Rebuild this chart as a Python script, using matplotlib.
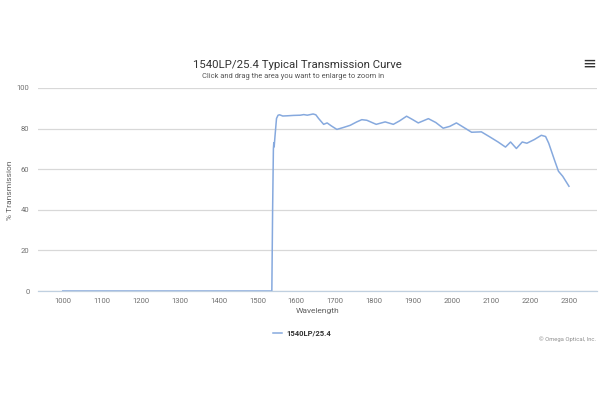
import matplotlib
matplotlib.use("Agg")
import matplotlib.pyplot as plt

plt.rcParams["font.family"] = ["Roboto", "DejaVu Sans"]

# values
wavelength = [1000, 1537, 1539, 1541, 1542, 1543, 1545, 1549, 1553, 1557, 1565,
              1576, 1593, 1610, 1619, 1628, 1643, 1650, 1657, 1670, 1679, 1690,
              1704, 1720, 1738, 1755, 1768, 1781, 1805, 1828, 1849, 1865, 1883,
              1898, 1913, 1939, 1958, 1977, 1994, 2011, 2028, 2050, 2075, 2096,
              2118, 2137, 2150, 2165, 2180, 2192, 2211, 2229, 2240, 2248, 2263,
              2273, 2284, 2300]
transmission = [0, 0, 40, 70, 73, 71, 76, 85, 86.6, 86.8, 86.2,
                86.3, 86.5, 86.6, 86.9, 86.6, 87.2, 86.8, 85.0, 82.1, 82.8, 81.3,
                79.6, 80.5, 81.6, 83.3, 84.4, 84.1, 82.1, 83.3, 82.1, 83.8, 86.1,
                84.5, 82.8, 84.9, 83.0, 80.2, 81.1, 82.8, 80.8, 78.2, 78.4, 76.0,
                73.4, 70.9, 73.4, 70.2, 73.4, 72.8, 74.6, 76.7, 76.1, 72.8, 64.4,
                59.0, 56.5, 51.6]
series_name = "1540LP/25.4"
x_ticks = list(range(1000, 2301, 100))
y_ticks = [0, 20, 40, 60, 80, 100]

fig = plt.figure(figsize=(6, 4), dpi=100)
ax = fig.add_axes([0.063, 0.2725, 0.932, 0.5075])

line, = ax.plot(wavelength, transmission, color="#86a9de", lw=1.1, label=series_name)

ax.set_xlim(936, 2372)
ax.set_ylim(0, 100)
ax.set_xticks(x_ticks)
ax.set_yticks(y_ticks)
ax.tick_params(axis="both", length=0, labelsize=5.5, colors="#707070", pad=6)
ax.tick_params(axis="x", pad=5)
ax.grid(axis="y", color="#d8d8d8", lw=0.9)
ax.set_axisbelow(True)
for s in ("top", "right", "left"):
    ax.spines[s].set_visible(False)
ax.spines["bottom"].set_color("#c0d0e0")
ax.spines["bottom"].set_linewidth(0.9)

ax.set_xlabel("Wavelength", fontsize=6, color="#606060", labelpad=3)
fig.text(0.016, 0.525, "% Transmission", rotation=90, ha="center", va="center",
         fontsize=6, color="#606060")

fig.text(0.496, 0.838, "1540LP/25.4 Typical Transmission Curve", ha="center", va="center",
         fontsize=8.2, color="#333333")
fig.text(0.489, 0.8075, "Click and drag the area you want to enlarge to zoom in", ha="center",
         va="center", fontsize=5.4, color="#555555")
fig.text(0.982, 0.84, "\u2261", ha="center", va="center", fontsize=12, color="#333333",
         family="DejaVu Sans")

leg = fig.legend(handles=[line], loc="center", bbox_to_anchor=(0.503, 0.168), frameon=False,
                 fontsize=5.5, handlelength=1.3, handletextpad=0.5)
for t in leg.get_texts():
    t.set_fontweight("bold")
    t.set_color("#333333")

fig.text(0.993, 0.152, "\u00a9 Omega Optical, Inc.", ha="right", va="center",
         fontsize=4.2, color="#909090")

fig.savefig("out.png", dpi=100)
